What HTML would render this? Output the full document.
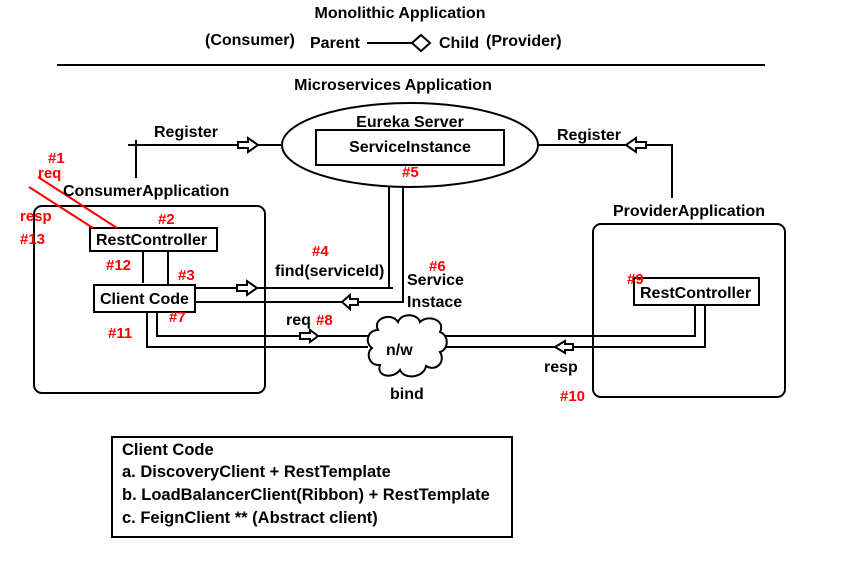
<!DOCTYPE html>
<html><head><meta charset="utf-8"><style>
html,body{margin:0;padding:0;background:#fff;}
svg{display:block;}
text{font-family:"Liberation Sans",sans-serif;font-weight:bold;font-size:16px;fill:#000;}
.r{fill:#ff0000;font-size:15px;}
.b{font-size:16.5px;}
</style></head><body>
<svg width="861" height="568" viewBox="0 0 861 568" xmlns="http://www.w3.org/2000/svg">
<g stroke="#000" stroke-width="2" fill="none">
<line x1="57" y1="65" x2="765" y2="65"/>
<line x1="367" y1="43" x2="412" y2="43"/>
<polygon points="412,43 421,35 430,43 421,51" fill="#fff"/>
<ellipse cx="410" cy="145" rx="128" ry="42"/>
<rect x="316" y="130" width="188" height="35"/>
<polyline points="128,145 282,145"/>
<line x1="136" y1="140" x2="136" y2="178"/>
<polyline points="538,145 672,145 672,198"/>
<rect x="34" y="206" width="231" height="187" rx="8"/>
<rect x="90" y="228" width="127" height="23"/>
<line x1="143" y1="251" x2="143" y2="283"/>
<line x1="168" y1="251" x2="168" y2="285"/>
<rect x="94" y="285" width="101" height="27"/>
<polyline points="195,288 393,288 389,288 389,186"/>
<polyline points="195,302 403,302 403,186"/>
<polyline points="157,313 157,336 372,336"/>
<polyline points="147,313 147,347 368,347"/>
<polyline points="443,336 695,336 695,306"/>
<polyline points="446,347 705,347 705,306"/>
<rect x="593" y="224" width="192" height="173" rx="8"/>
<rect x="634" y="278" width="125" height="27"/>
<rect x="112" y="437" width="400" height="100"/>
<path d="M378,330 C372,318 392,312 398,322 C402,312 418,314 420,322 C428,314 446,320 440,332 C450,336 448,350 440,352 C446,362 436,372 426,366 C424,378 404,380 400,370 C392,380 376,376 380,365 C368,366 366,352 372,348 C364,342 368,330 378,330 Z" fill="#fff"/>
</g>
<g stroke="#000" stroke-width="2" fill="#fff">
<polygon points="238,142 248,142 248,138 258,145 248,152 248,148 238,148"/>
<polygon points="646,142 636,142 636,138 626,145 636,152 636,148 646,148"/>
<polygon points="237,285 247,285 247,281 257,288 247,295 247,291 237,291"/>
<polygon points="358,299 350,299 350,295 342,302 350,309 350,305 358,305"/>
<polygon points="300,333 310,333 310,330 318,336 310,342 310,339 300,339"/>
<polygon points="573,344 565,344 565,341 555,347 565,353 565,350 573,350"/>
</g>
<g stroke="#ff0000" stroke-width="2">
<line x1="38" y1="177" x2="117" y2="228"/>
<line x1="29" y1="187" x2="93" y2="228"/>
</g>
<text x="400" y="18" text-anchor="middle">Monolithic Application</text>
<text x="205" y="45">(Consumer)</text>
<text x="310" y="48">Parent</text>
<text x="439" y="48">Child</text>
<text x="486" y="46">(Provider)</text>
<text x="393" y="90" text-anchor="middle">Microservices Application</text>
<text x="410" y="127" text-anchor="middle">Eureka Server</text>
<text x="410" y="152" text-anchor="middle">ServiceInstance</text>
<text x="154" y="137">Register</text>
<text x="557" y="140">Register</text>
<text x="63" y="196">ConsumerApplication</text>
<text x="613" y="216">ProviderApplication</text>
<text x="96" y="245">RestController</text>
<text x="100" y="304">Client Code</text>
<text x="640" y="298">RestController</text>
<text x="275" y="276">find(serviceId)</text>
<text x="407" y="285">Service</text>
<text x="407" y="307">Instace</text>
<text x="286" y="325">req</text>
<text x="386" y="355">n/w</text>
<text x="390" y="399">bind</text>
<text x="544" y="372">resp</text>
<text class="r" x="48" y="163">#1</text>
<text class="r" x="38" y="178">req</text>
<text class="r" x="20" y="221">resp</text>
<text class="r" x="20" y="244">#13</text>
<text class="r" x="158" y="224">#2</text>
<text class="r" x="106" y="270">#12</text>
<text class="r" x="178" y="280">#3</text>
<text class="r" x="312" y="256">#4</text>
<text class="r" x="402" y="177">#5</text>
<text class="r" x="429" y="271">#6</text>
<text class="r" x="169" y="322">#7</text>
<text class="r" x="316" y="325">#8</text>
<text class="r" x="627" y="284">#9</text>
<text class="r" x="560" y="401">#10</text>
<text class="r" x="108" y="338">#11</text>
<text class="b" x="122" y="455">Client Code</text>
<text class="b" x="122" y="477">a. DiscoveryClient + RestTemplate</text>
<text class="b" x="122" y="500">b. LoadBalancerClient(Ribbon)  + RestTemplate</text>
<text class="b" x="122" y="523">c. FeignClient ** (Abstract client)</text>
</svg>
</body></html>
